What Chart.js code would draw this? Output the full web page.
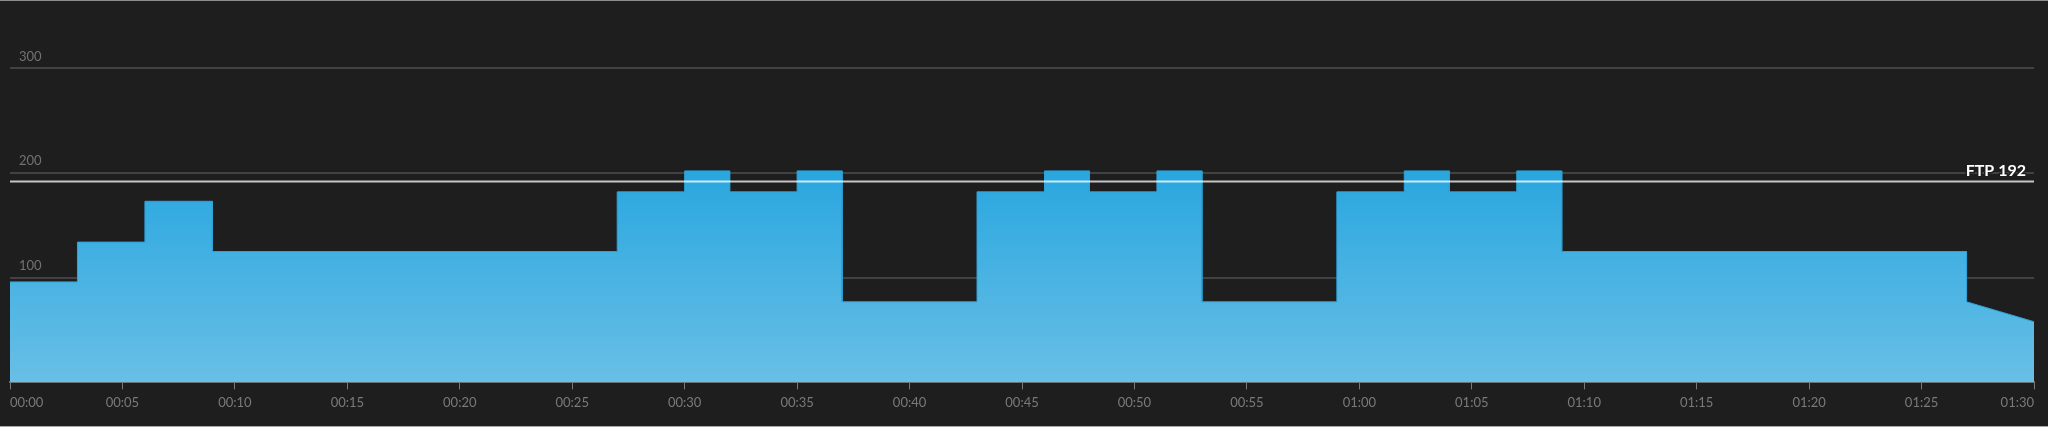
<!DOCTYPE html>
<html>
<head>
<meta charset="utf-8">
<script src="https://cdn.jsdelivr.net/npm/chart.js@4/dist/chart.umd.min.js"></script>
<style>
  html, body { margin: 0; padding: 0; background: #1e1e1e; }
  #wrap { width: 2048px; height: 425px; border-top: 1px solid #8e8e8e; border-bottom: 1px solid #a8a8a8; position: relative; }
</style>
</head>
<body>
<div id="wrap"><canvas id="workout"></canvas></div>
<script>
// workout steps, minutes
const segStart = [0, 3, 6, 9, 27, 30, 32, 35, 37, 43, 46, 48, 51, 53, 59, 62, 64, 67, 69, 87];
const segEnd   = [3, 6, 9, 27, 30, 32, 35, 37, 43, 46, 48, 51, 53, 59, 62, 64, 67, 69, 87, 90];
// watts at the start / end of each step
const wattsFrom = [96, 134, 173, 125, 182, 202, 182, 202, 77, 182, 202, 182, 202, 77, 182, 202, 182, 202, 125, 77];
const wattsTo   = [96, 134, 173, 125, 182, 202, 182, 202, 77, 182, 202, 182, 202, 77, 182, 202, 182, 202, 125, 58];
const ftp = 192;
const yTicks = [100, 200, 300];

function main() {
  const points = [];
  segStart.forEach((s, i) => {
    points.push({ x: s, y: wattsFrom[i] });
    points.push({ x: segEnd[i], y: wattsTo[i] });
  });

  const ftpLabel = {
    id: 'ftpLabel',
    afterDatasetsDraw(chart) {
      const c = chart.ctx;
      const y = chart.scales.y.getPixelForValue(ftp);
      c.save();
      c.font = 'bold 16px Lato';
      c.textAlign = 'right';
      c.textBaseline = 'alphabetic';
      c.lineWidth = 3;
      c.strokeStyle = '#1e1e1e';
      c.strokeText('FTP ' + ftp, chart.chartArea.right - 8, y - 5);
      c.fillStyle = '#ffffff';
      c.fillText('FTP ' + ftp, chart.chartArea.right - 8, y - 5);
      c.restore();
    }
  };

  new Chart(document.getElementById('workout'), {
    type: 'line',
    data: {
      datasets: [
        {
          label: 'FTP',
          data: [{ x: 0, y: ftp }, { x: 90, y: ftp }],
          borderColor: 'rgba(255,255,255,0.75)',
          borderWidth: 2,
          pointRadius: 0,
          fill: false,
        },
        {
          label: 'Power',
          data: points,
          borderColor: '#2ea3da',
          borderWidth: 1,
          pointRadius: 0,
          tension: 0,
          fill: 'origin',
          backgroundColor: (ctx) => {
            const chart = ctx.chart;
            if (!chart.chartArea) return '#3fb0e2';
            const ys = chart.scales.y;
            const g = chart.ctx.createLinearGradient(0, ys.getPixelForValue(205), 0, ys.getPixelForValue(0));
            g.addColorStop(0, '#28a6df');
            g.addColorStop(1, '#69bfe6');
            return g;
          },
        },
      ],
    },
    options: {
      responsive: true,
      maintainAspectRatio: false,
      animation: false,
      layout: { padding: { left: 10, right: 14, top: 15, bottom: 9 } },
      plugins: { legend: { display: false }, tooltip: { enabled: false } },
      scales: {
        x: {
          type: 'linear',
          min: 0,
          max: 90,
          ticks: {
            stepSize: 5,
            align: 'inner',
            padding: 6,
            color: '#7a7a7a',
            font: { family: 'Lato', size: 13 },
            maxRotation: 0,
            callback: (v) => String(Math.floor(v / 60)).padStart(2, '0') + ':' + String(v % 60).padStart(2, '0'),
          },
          grid: { drawOnChartArea: false, drawTicks: true, tickLength: 7, tickColor: '#7a7a7a' },
          border: { display: true, color: '#6a6a6a', width: 2 },
        },
        y: {
          min: 0,
          max: 350,
          afterFit: (s) => { s.width = 0; s.paddingTop = 0; s.paddingBottom = 0; },
          ticks: {
            stepSize: 100,
            mirror: true,
            padding: 9,
            labelOffset: -12,
            color: '#727272',
            font: { family: 'Lato', size: 13 },
            callback: (v) => yTicks.includes(v) ? String(v) : '',
          },
          grid: {
            drawTicks: false,
            color: (ctx) => yTicks.includes(ctx.tick.value) ? '#424242' : 'transparent',
            lineWidth: 2,
          },
          border: { display: false },
        },
      },
    },
    plugins: [ftpLabel],
  });
}

main();
</script>
</body>
</html>
